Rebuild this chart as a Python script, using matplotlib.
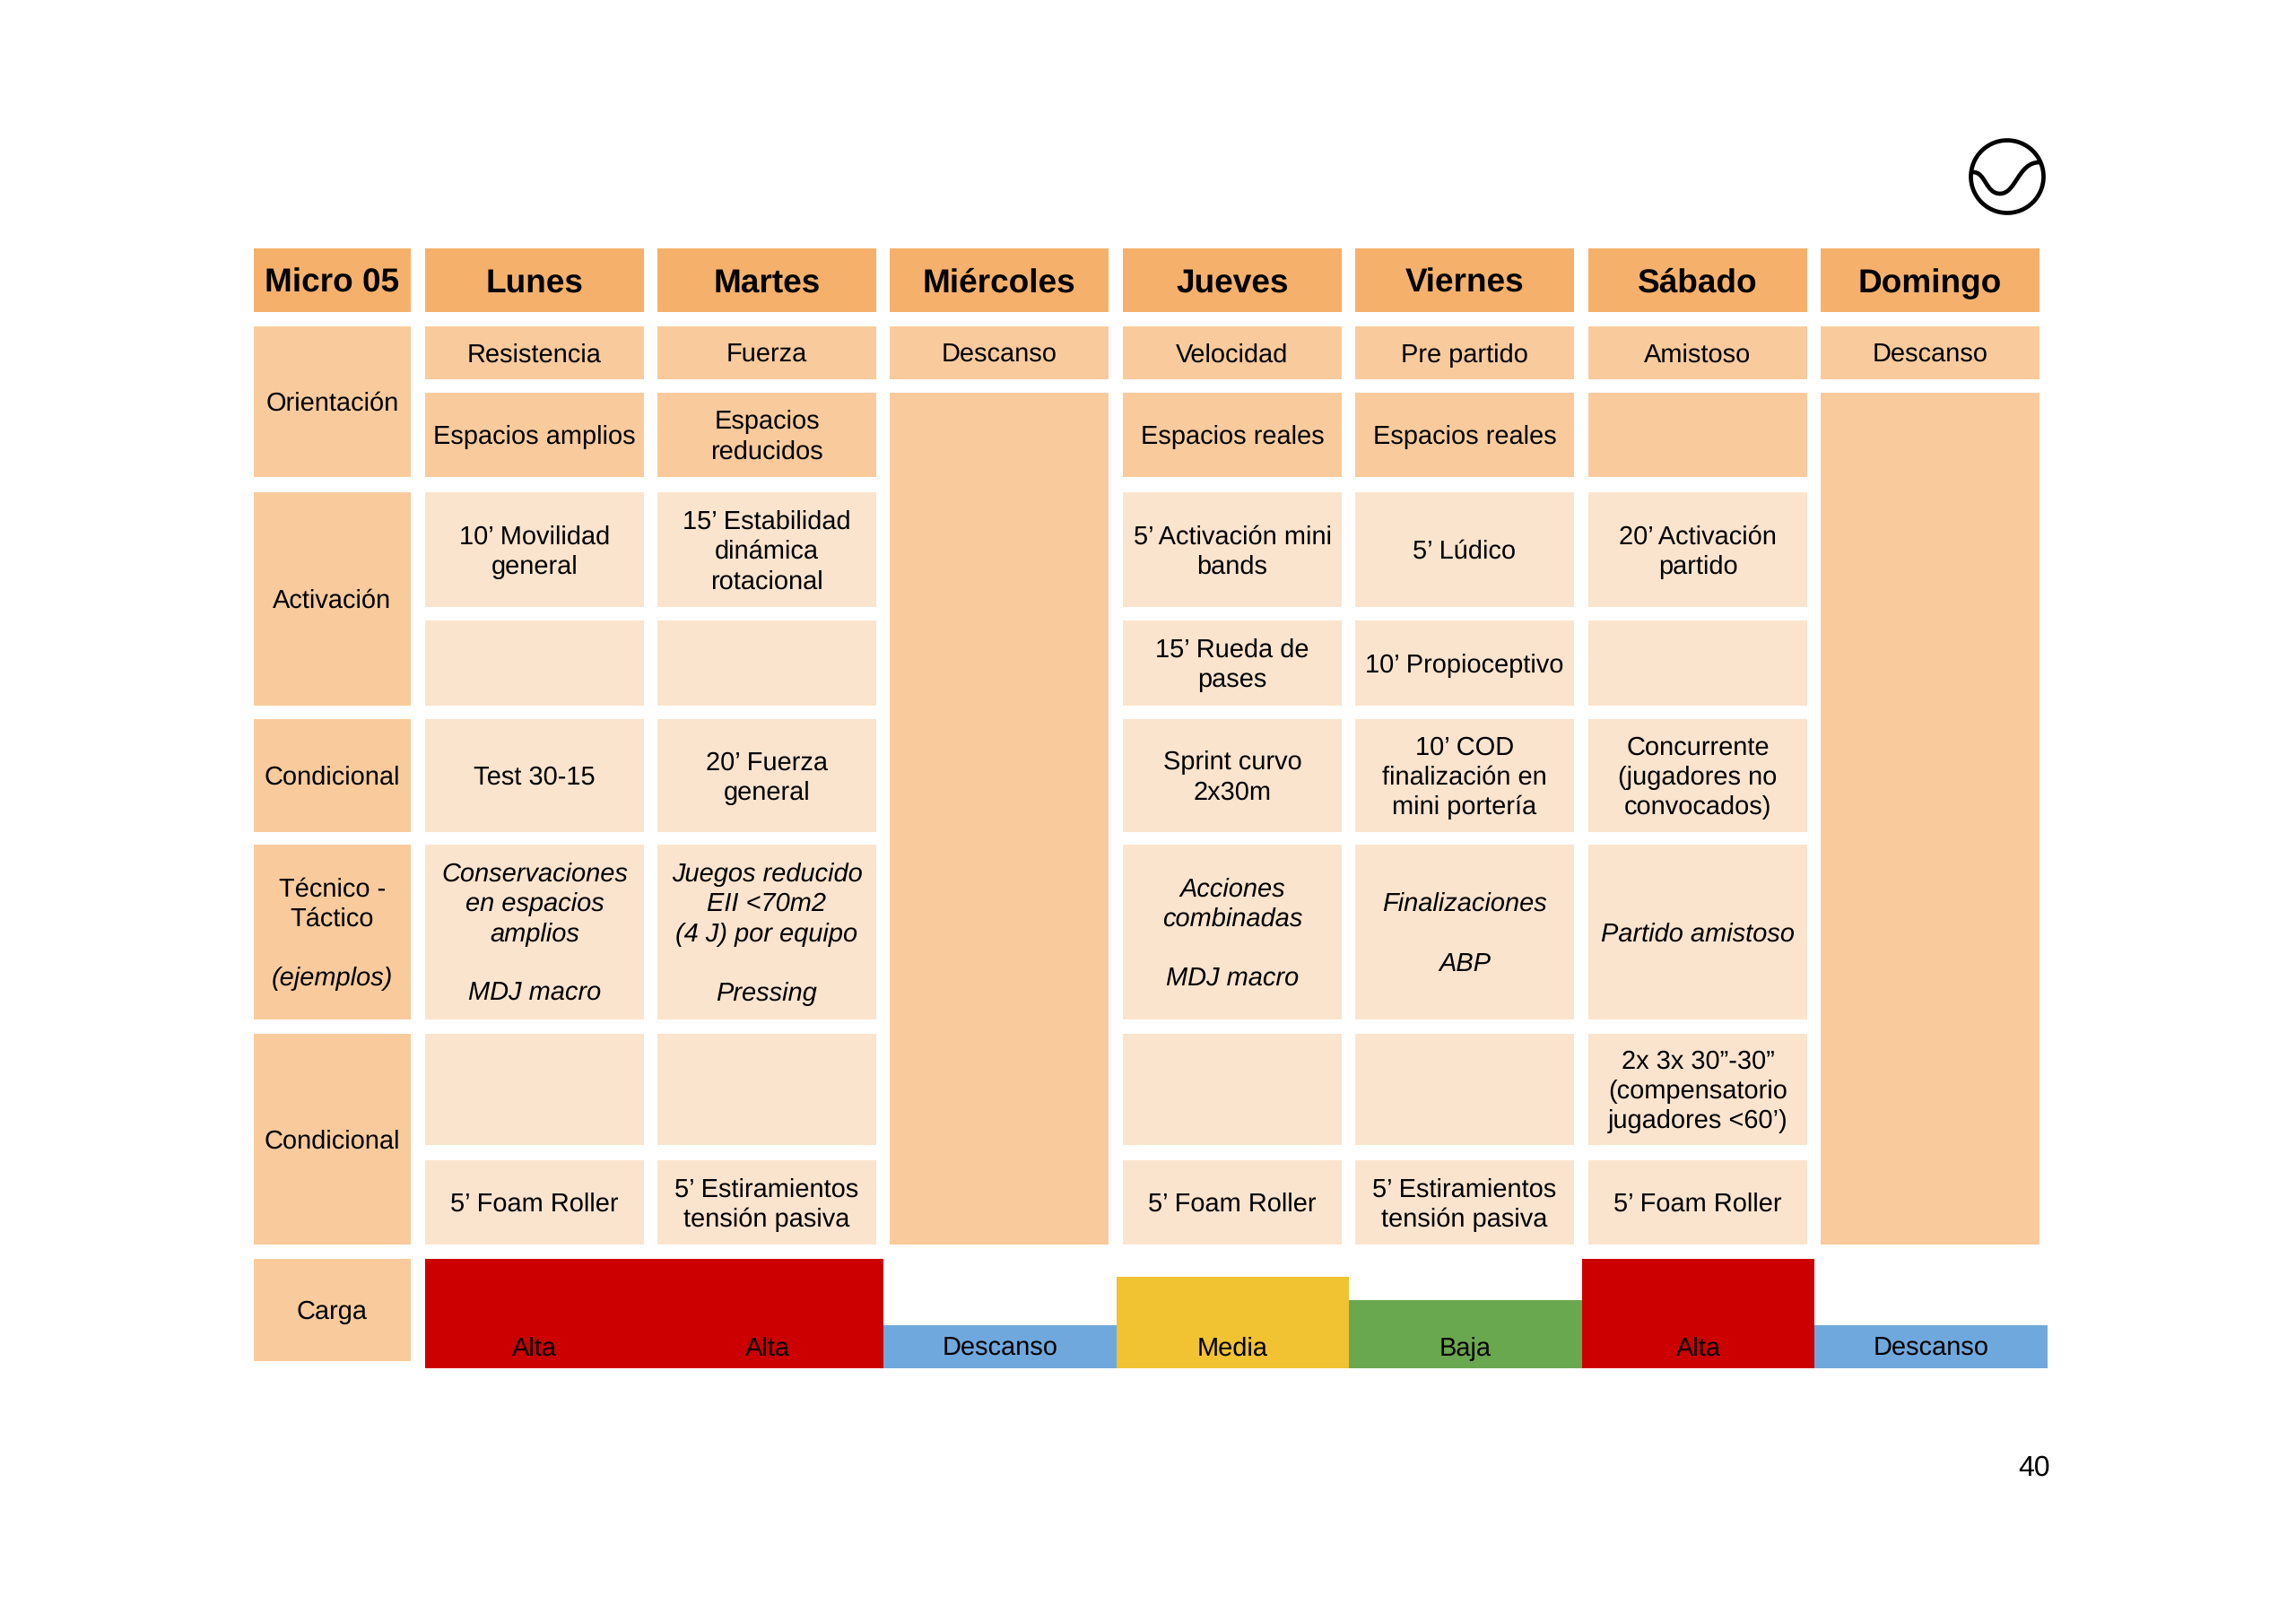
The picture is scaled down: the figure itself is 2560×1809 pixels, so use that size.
#!/usr/bin/env python
"""Weekly microcycle table (Micro 05) with the load bars below it"""

# %% import modules
import matplotlib
matplotlib.use("Agg")
import matplotlib.pyplot as plt
from matplotlib.patches import Circle, PathPatch, Rectangle
from matplotlib.path import Path

# %% table content
corner = "Micro 05"
days = ["Lunes", "Martes", "Miércoles", "Jueves", "Viernes", "Sábado", "Domingo"]
row_labels = [
    "Orientación",
    "Activación",
    "Condicional",
    "Técnico -\nTáctico\n\n(ejemplos)",
    "Condicional",
    "Carga",
]
orientation_1 = ["Resistencia", "Fuerza", "Descanso", "Velocidad", "Pre partido", "Amistoso", "Descanso"]
orientation_2 = ["Espacios amplios", "Espacios\nreducidos", None, "Espacios reales", "Espacios reales", "", None]
activation_1 = [
    "10’ Movilidad\ngeneral",
    "15’ Estabilidad\ndinámica\nrotacional",
    None,
    "5’ Activación mini\nbands",
    "5’ Lúdico",
    "20’ Activación\npartido",
    None,
]
activation_2 = ["", "", None, "15’ Rueda de\npases", "10’ Propioceptivo", "", None]
conditional_1 = [
    "Test 30-15",
    "20’ Fuerza\ngeneral",
    None,
    "Sprint curvo\n2x30m",
    "10’ COD\nfinalización en\nmini portería",
    "Concurrente\n(jugadores no\nconvocados)",
    None,
]
technical = [
    "Conservaciones\nen espacios\namplios\n\nMDJ macro",
    "Juegos reducido\nEII <70m2\n(4 J) por equipo\n\nPressing",
    None,
    "Acciones\ncombinadas\n\nMDJ macro",
    "Finalizaciones\n\nABP",
    "Partido amistoso",
    None,
]
conditional_2 = ["", "", None, "", "", "2x 3x 30”-30”\n(compensatorio\njugadores <60’)", None]
recovery = [
    "5’ Foam Roller",
    "5’ Estiramientos\ntensión pasiva",
    None,
    "5’ Foam Roller",
    "5’ Estiramientos\ntensión pasiva",
    "5’ Foam Roller",
    None,
]

# %% load bars, relative height
load_labels = ["Alta", "Alta", "Descanso", "Media", "Baja", "Alta", "Descanso"]
load_values = [100, 100, 39, 84, 62, 100, 39]
load_colors = {"Alta": "#CC0000", "Media": "#F1C232", "Baja": "#6AA84F", "Descanso": "#6FA8DC"}
page_number = "40"

# %% layout in pixels of the page
W, H = 2560, 1809
col_left = [474, 733, 992, 1252, 1511, 1771, 2030]
col_w = 244
label_left, label_right = 283, 458
dark, mid, pale = "#F5B16C", "#F9CB9C", "#FBE4CD"
fs_header, fs_cell = 26.6, 20.6
line_h = 33.3

plt.rcParams["font.family"] = ["Liberation Sans", "DejaVu Sans"]
plt.rcParams["text.hinting"] = "no_hinting"
plt.rcParams["text.hinting_factor"] = 1
fig = plt.figure(figsize=(W / 100, H / 100), dpi=100, facecolor="white")
ax = fig.add_axes([0, 0, 1, 1])
ax.set_xlim(0, W)
ax.set_ylim(H, 0)
ax.axis("off")


def put_text(x, y, text, size=fs_cell, weight="normal", style="normal", target=ax):
    """Write a block of lines centred on x, y with a fixed line distance"""
    lines = text.split("\n")
    for i, line in enumerate(lines):
        if not line:
            continue
        line_y = y + (i - (len(lines) - 1) / 2) * line_h
        line_style = "italic" if line.startswith("(ejemplos") else style
        target.text(x, line_y + 0.35 * size * 100 / 72, line, fontsize=size, fontweight=weight,
                    fontstyle=line_style, ha="center", va="baseline", color="black")


def box(x0, x1, y0, y1, color):
    ax.add_patch(Rectangle((x0, y0), x1 - x0, y1 - y0, facecolor=color, edgecolor="none"))


# %% header row
box(label_left, label_right, 277, 348, dark)
put_text((label_left + label_right) / 2, 313, corner, size=fs_header, weight="bold")
for left, day in zip(col_left, days):
    box(left, left + col_w, 277, 348, dark)
    put_text(left + col_w / 2, 313, day, size=fs_header, weight="bold")

# %% row labels
label_spans = [(364, 532), (549, 787), (802, 928), (942, 1137), (1153, 1388), (1404, 1518)]
for (y0, y1), label in zip(label_spans, row_labels):
    box(label_left, label_right, y0, y1, mid)
    put_text((label_left + label_right) / 2, (y0 + y1) / 2, label)

# %% body rows
body_rows = [
    (orientation_1, 364, 423, mid, "normal"),
    (orientation_2, 438, 532, mid, "normal"),
    (activation_1, 549, 677, pale, "normal"),
    (activation_2, 692, 787, pale, "normal"),
    (conditional_1, 802, 928, pale, "normal"),
    (technical, 942, 1137, pale, "italic"),
    (conditional_2, 1153, 1277, pale, "normal"),
    (recovery, 1294, 1388, pale, "normal"),
]
for cells, y0, y1, color, style in body_rows:
    for left, cell in zip(col_left, cells):
        if cell is None:  # rest days are one tall block
            continue
        box(left, left + col_w, y0, y1, color)
        if cell:
            put_text(left + col_w / 2, (y0 + y1) / 2, cell, style=style)
for i in (2, 6):
    box(col_left[i], col_left[i] + col_w, 438, 1388, mid)

# %% load bars
ax_load = fig.add_axes([474 / W, 1 - 1526 / H, (2283 - 474) / W, 122 / H])
ax_load.bar(range(len(load_values)), load_values, width=1, color=[load_colors[k] for k in load_labels])
ax_load.set_xlim(-0.470, 6.501)
ax_load.set_ylim(0, 100)
ax_load.axis("off")
for i, label in enumerate(load_labels):
    ax_load.text(i, 11.5, label, fontsize=fs_cell, ha="center", va="baseline", color="black")

# %% logo and page number
ax.add_patch(Circle((2238, 197), 40.5, facecolor="none", edgecolor="black", linewidth=3.4))
wave = Path(
    [(2200, 192), (2214, 192), (2214, 216), (2230, 216), (2248, 216), (2250, 181), (2274, 181)],
    [Path.MOVETO, Path.CURVE4, Path.CURVE4, Path.CURVE4, Path.CURVE4, Path.CURVE4, Path.CURVE4],
)
ax.add_patch(PathPatch(wave, facecolor="none", edgecolor="black", linewidth=3.4))
ax.text(2286, 1646, page_number, fontsize=23, ha="right", va="baseline", color="black")

# plt.show()
plt.savefig("out.png", dpi=100)
plt.close()
